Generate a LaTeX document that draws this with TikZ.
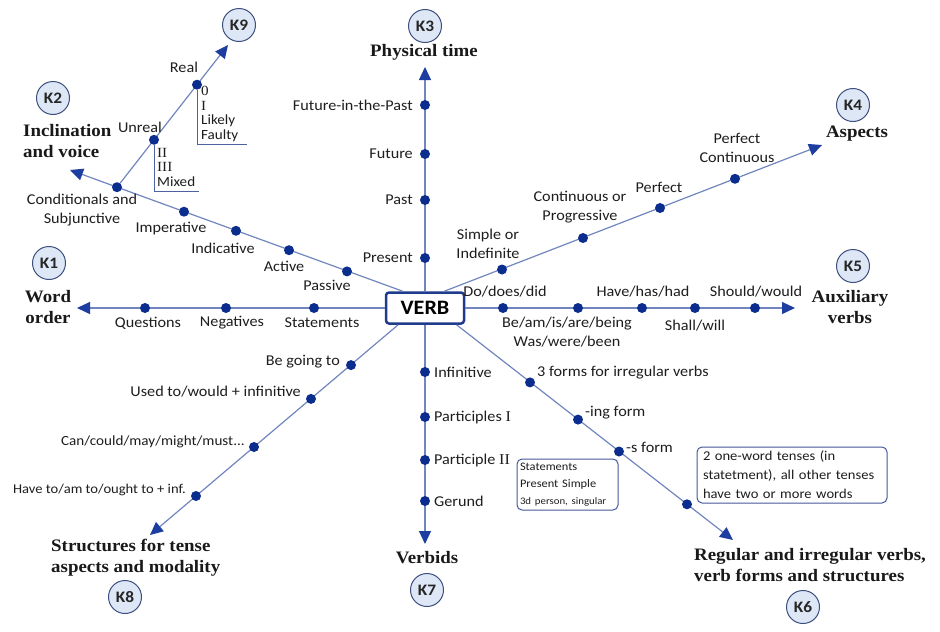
\documentclass[tikz,border=0pt]{standalone}
\usepackage{fontspec}
\setmainfont{Carlito}[FakeStretch=1.08]
\newfontfamily\headfont{Liberation Serif}[FakeStretch=1.08]
\usepackage{tikz}
\usetikzlibrary{arrows.meta,positioning,calc}
\definecolor{VLine}{HTML}{7186BE}
\definecolor{VDot}{HTML}{0B2D8E}
\definecolor{VArrow}{HTML}{1D3EA0}
\definecolor{VBox}{HTML}{1F3C8C}
\definecolor{VNote}{HTML}{46599A}
\definecolor{KFill}{HTML}{DDE7F6}
\definecolor{KDraw}{HTML}{3B4E7E}
\definecolor{VText}{HTML}{1E1E1E}
\tikzset{
    verbbox/.style = {draw=VBox, fill=white, line width=2.5pt, rounded corners=3pt,
        minimum width=78pt, minimum height=31pt,
        font=\bfseries\fontsize{20.5}{20.5}\selectfont},
    branch/.style = {draw=VLine, line width=1.2pt, ->},
    dot/.style = {circle, fill=VDot, inner sep=0pt, minimum size=10pt},
    lbl/.style = {text=VText, inner sep=1pt, align=center,
        font=\fontsize{15}{19}\selectfont},
    head/.style = {text=black!90, inner sep=1pt, align=center,
        font=\headfont\bfseries\fontsize{17.5}{21}\selectfont},
    tag/.style = {circle, draw=KDraw, fill=KFill, line width=1pt,
        minimum size=33pt, inner sep=0pt, text=black!85,
        font=\bfseries\fontsize{16}{16}\selectfont},
    note/.style = {draw=VNote, rounded corners=5pt, line width=1pt, align=left,
        text=VText, inner ysep=2pt},
    bracket/.style = {draw=VBox!80, line width=0.8pt}
}
\newcommand{\rmn}[1]{{\headfont #1}}

\begin{document}
\begin{tikzpicture}[x=1pt, y=-1pt, >={Triangle[length=13pt,width=12pt,color=VArrow]}]
  \path[use as bounding box, fill=white] (0,0) rectangle (940,632);

  \node[verbbox] (verb) at (425,308) {VERB};
  \coordinate (end1) at (77,308);
  \coordinate (end2) at (70,170);
  \coordinate (end3) at (425,67);
  \coordinate (end4) at (822,145);
  \coordinate (end5) at (795,308);
  \coordinate (end6) at (733,540);
  \coordinate (end7) at (425,544);
  \coordinate (end8) at (150,535);
  \coordinate (end9) at (228,45);

  \draw[branch] (verb.west) -- (end1);
  \draw[branch] (verb.143) -- (end2);
  \draw[branch] (verb.north) -- (end3);
  \draw[branch] (verb.41) -- (end4);
  \draw[branch] (verb.east) -- (end5);
  \draw[branch] (verb.-28) -- (end6);
  \draw[branch] (verb.south) -- (end7);
  \draw[branch] (verb.212) -- (end8);

  % K1 word order
  \foreach \x/\lx/\t [count=\i] in {145/148/Questions,226/232/Negatives,314/322/Statements}{
    \node[dot] (w\i) at (\x,308) {};
    \node[lbl] (wl\i) at (\lx,323) {\t};
  }
  \node[tag] (k1) at (49,263) {K1};
  \node[head] (h1) at (48,307) {Word\\order};

  % K2 inclination and voice
  \foreach \x/\y/\lx/\ly/\t [count=\i] in {347/271.4/327/285/Passive,289/250.2/284/266/Active,
      236/230.8/223/248/Indicative,184/211.7/171/229/Imperative}{
    \node[dot] (i\i) at (\x,\y) {};
    \node[lbl] (il\i) at (\lx,\ly) {\t};
  }
  \node[dot] (i5) at (117,187.2) {};
  \node[lbl] (il5) at (82,210) {Conditionals and\\Subjunctive};
  \node[tag] (k2) at (53,98) {K2};
  \node[head, anchor=west, align=left] (h2) at (22,141) {Inclination\\and voice};

  % K9 conditionals
  \draw[branch] (i5) -- (end9);
  \node[dot] (c1) at (154,139.8) {};
  \node[dot] (c2) at (197,84.7) {};
  \node[lbl] (cl1) at (140,127) {Unreal};
  \node[lbl] (cl2) at (184,67) {Real};
  \coordinate (cb1) at (199,191);
  \coordinate (cb2) at (247,144);
  \draw[bracket] (c1) |- (cb1);
  \draw[bracket] (c2) |- (cb2);
  \node[lbl, anchor=north west, align=left, inner sep=0pt, font=\fontsize{14}{14.5}\selectfont]
    (cn1) at (157,148) {\rmn{II}\\\rmn{III}\\Mixed};
  \node[lbl, anchor=north west, align=left, inner sep=0pt, font=\fontsize{14}{14.5}\selectfont]
    (cn2) at (201,86) {\rmn{0}\\\rmn{I}\\Likely\\Faulty};
  \node[tag] (k9) at (239,25) {K9};

  % K3 physical time
  \foreach \y/\t [count=\i] in {258/Present,200/Past,154/Future,105/Future-in-the-Past}{
    \node[dot] (p\i) at (425,\y) {};
    \node[lbl, anchor=east] (pl\i) at (414,\y) {\t};
  }
  \node[tag] (k3) at (425,26) {K3};
  \node[head] (h3) at (424,52) {Physical time};

  % K4 aspects
  \node[dot] (a1) at (502,269.5) {};
  \node[dot] (a2) at (583,238) {};
  \node[dot] (a3) at (660,208) {};
  \node[dot] (a4) at (735,178.8) {};
  \node[lbl] (al1) at (488,244) {Simple or\\Indefinite};
  \node[lbl] (al2) at (580,207) {Continuous or\\Progressive};
  \node[lbl] (al3) at (659,187) {Perfect};
  \node[lbl] (al4) at (737,148) {Perfect\\Continuous};
  \node[tag] (k4) at (853,105) {K4};
  \node[head] (h4) at (857,134) {Aspects};

  % K5 auxiliary verbs
  \foreach \x [count=\i] in {503,578,642,695,755}{
    \node[dot] (v\i) at (\x,308) {};
  }
  \node[lbl] (vl1) at (505,292) {Do/does/did};
  \node[lbl] (vl2) at (567,332) {Be/am/is/are/being\\Was/were/been};
  \node[lbl] (vl3) at (643,292) {Have/has/had};
  \node[lbl] (vl4) at (695,326) {Shall/will};
  \node[lbl] (vl5) at (756,292) {Should/would};
  \node[tag] (k5) at (853,266) {K5};
  \node[head] (h5) at (850,307) {Auxiliary\\verbs};

  % K6 verb forms
  \node[dot] (f1) at (530,382.4) {};
  \node[dot] (f2) at (578,419.6) {};
  \node[dot] (f3) at (619,451.5) {};
  \node[dot] (f4) at (687,504.3) {};
  \node[lbl, anchor=west] (fl1) at (536,373) {3 forms for irregular verbs};
  \node[lbl, anchor=west] (fl2) at (584,413) {-ing form};
  \node[lbl, anchor=west] (fl3) at (625,447) {-s form};
  \node[note, text width=95pt, inner xsep=3pt, minimum height=51pt,
    font=\fontsize{11.5}{17}\selectfont] (sbox) at (567.5,484.5)
    {Statements\\Present Simple\\{\fontsize{10}{13}\selectfont 3d person, singular}};
  \node[note, text width=178pt, inner xsep=6pt, minimum height=56pt,
    font=\fontsize{13.5}{19}\selectfont] (bbox) at (792,475)
    {2 one-word tenses (in\\statetment), all other tenses\\have two or more words};
  \node[head, anchor=west, align=left] (h6) at (693,565)
    {Regular and irregular verbs,\\verb forms and structures};
  \node[tag] (k6) at (803,607) {K6};

  % K7 verbids
  \foreach \y/\t [count=\i] in {372/Infinitive,417/Participles \rmn{I},460/Participle \rmn{II},501/Gerund}{
    \node[dot] (b\i) at (425,\y) {};
    \node[lbl, anchor=west] (bl\i) at (433,\y) {\t};
  }
  \node[head] (h7) at (427,558) {Verbids};
  \node[tag] (k7) at (427,590) {K7};

  % K8 structures
  \node[dot] (s1) at (351,365.1) {};
  \node[dot] (s2) at (311,398.9) {};
  \node[dot] (s3) at (254,447) {};
  \node[dot] (s4) at (196,496) {};
  \node[lbl, anchor=east] (sl1) at (341,362) {Be going to};
  \node[lbl, anchor=east] (sl2) at (302,392) {Used to/would + infinitive};
  \node[lbl, anchor=east, font=\fontsize{14}{19}\selectfont] (sl3) at (246,442) {Can/could/may/might/must...};
  \node[lbl, anchor=east, font=\fontsize{13.5}{19}\selectfont] (sl4) at (187,490) {Have to/am to/ought to + inf.};
  \node[head, anchor=west, align=left] (h8) at (50,558)
    {Structures for tense\\aspects and modality};
  \node[tag] (k8) at (125,597) {K8};
\end{tikzpicture}
\end{document}
